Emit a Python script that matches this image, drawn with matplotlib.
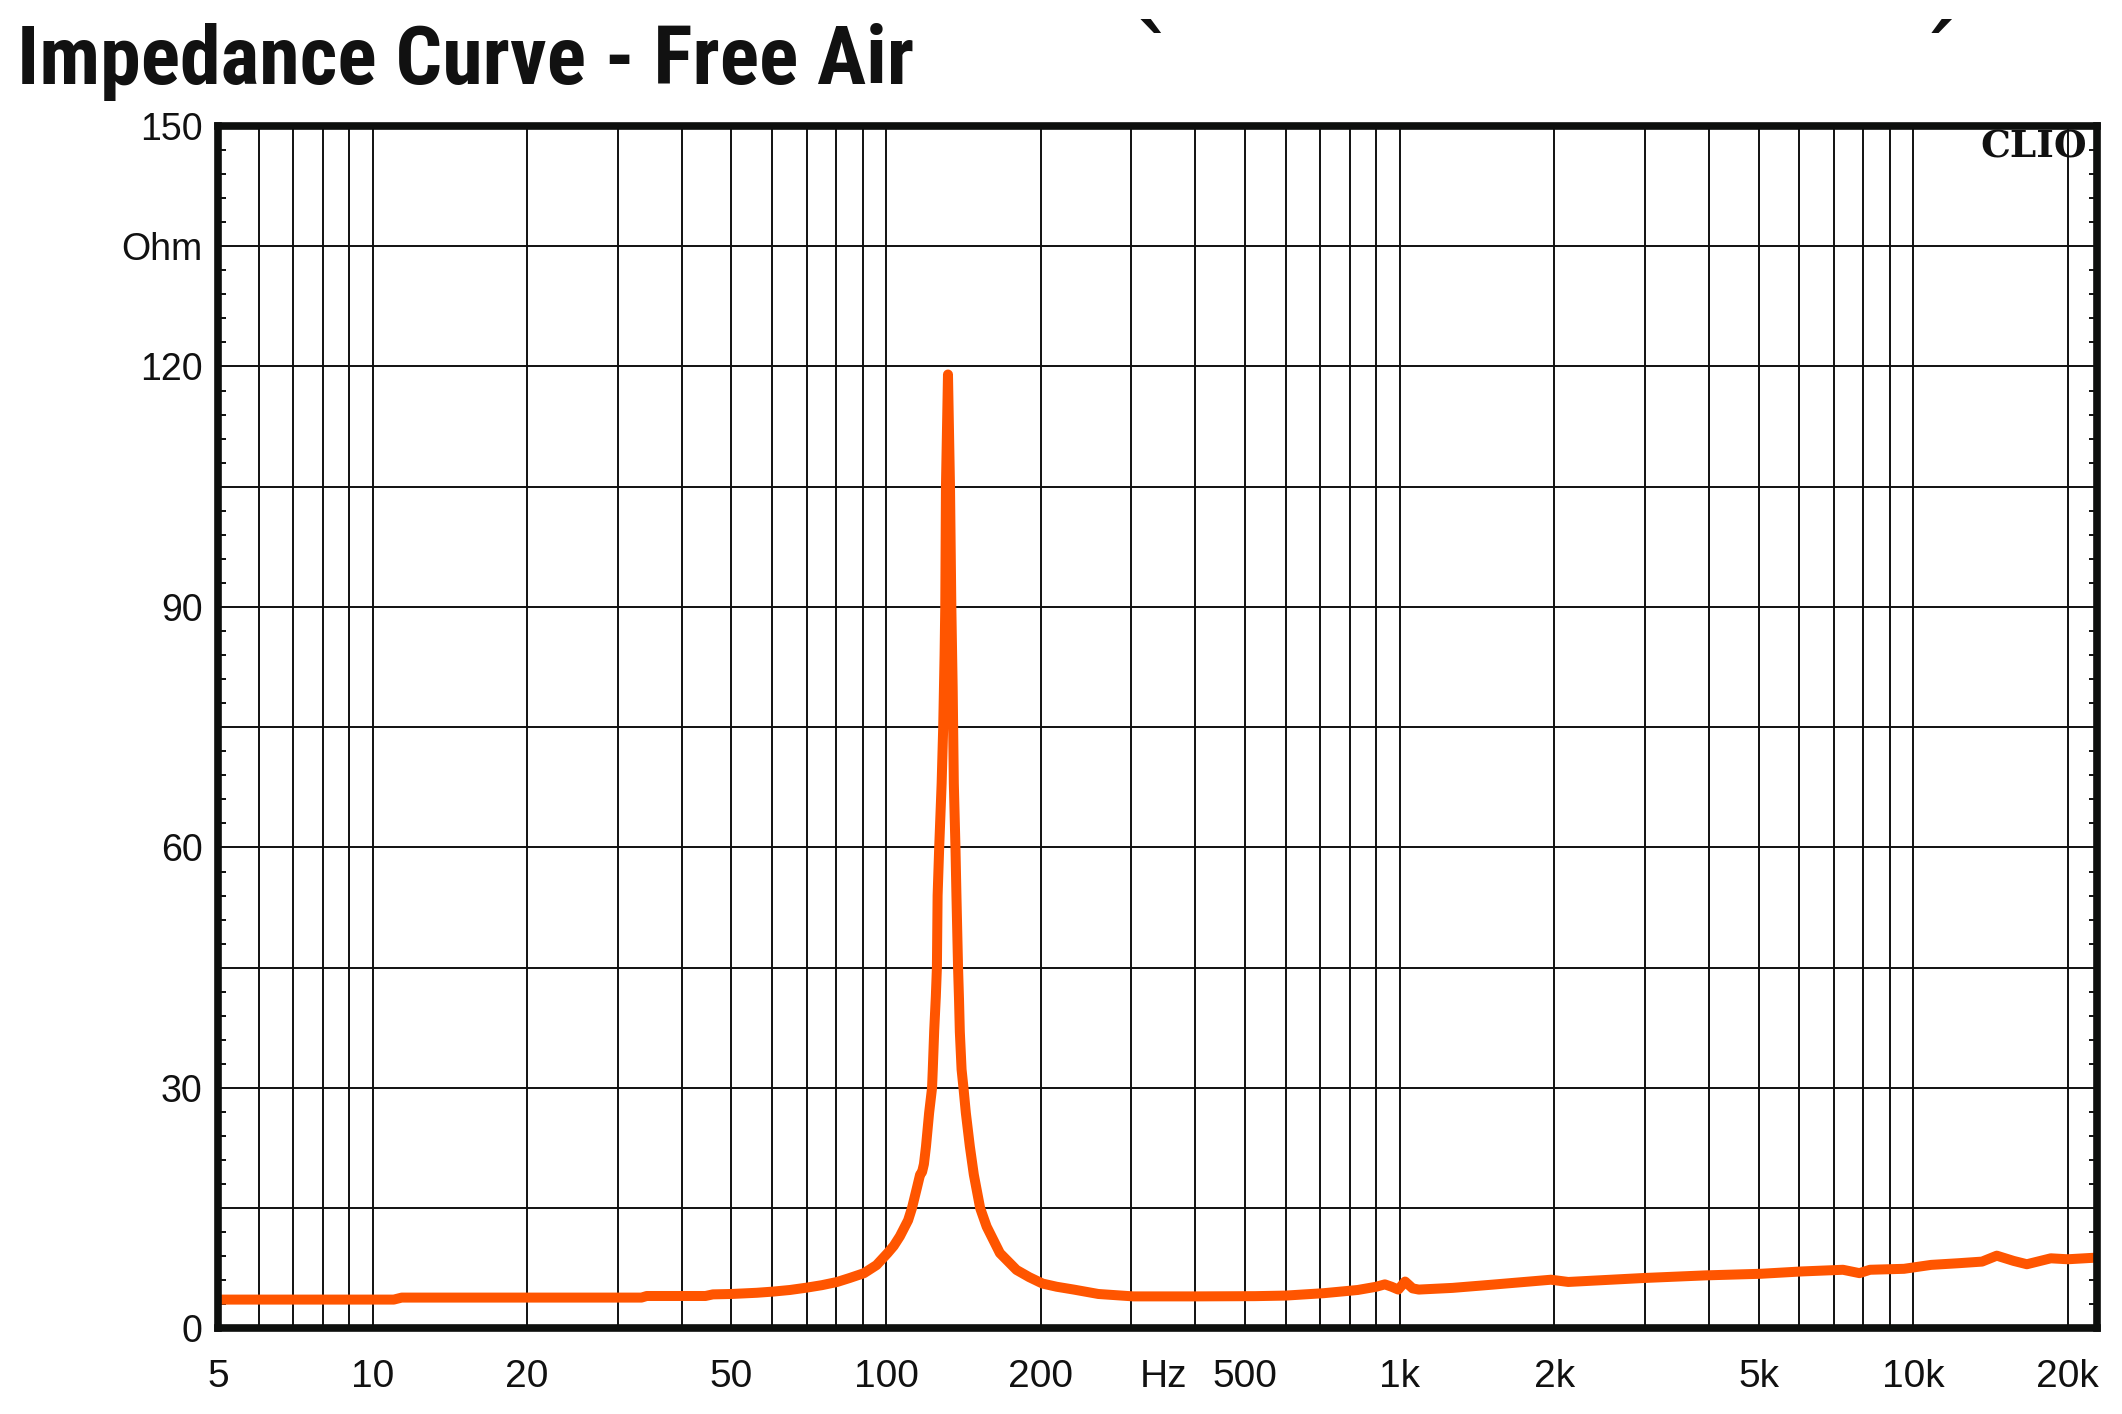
import matplotlib
matplotlib.use("Agg")
import matplotlib.pyplot as plt
from matplotlib import font_manager as fm
from matplotlib import transforms as mtransforms
from matplotlib.ticker import FixedLocator, NullFormatter

# ---------------- data ----------------
freq_hz = [5, 11.0, 11.4, 33.4, 34.2, 44.5, 46, 50, 56, 60.3, 65, 70.2, 75, 80.3, 85, 90.6,
           95.8, 100.7, 103.5, 106.4, 110.4, 112.3, 114.8, 116.5, 117.5, 118.5, 119.6, 121.3,
           122.9, 123.3, 124.1, 125.0, 125.6, 126.0, 126.9, 128.3, 129.2, 130.0, 130.4, 130.8,
           132.0, 133.2, 134.0, 134.8, 135.5, 136.5, 137.1, 138.1, 138.7, 139.2, 140.3, 141.5,
           143.0, 145.6, 148.2, 152.5, 157.0, 166.6, 179.5, 190, 201.7, 215, 232, 259, 303,
           330, 400, 523, 600, 712, 829, 900, 936, 965, 994, 1025, 1060, 1090, 1268, 1520,
           1972, 2130, 2980, 3940, 5050, 6060, 7300, 7860, 8240, 9600, 10840, 12270, 13620,
           14550, 15680, 16650, 18540, 20000, 22800]
impedance_ohm = [3.6, 3.6, 3.85, 3.85, 4.05, 4.05, 4.25, 4.3, 4.45, 4.6, 4.8, 5.1, 5.4, 5.8, 6.3,
                 6.9, 7.9, 9.4, 10.3, 11.5, 13.5, 15.0, 17.5, 19.2, 19.5, 20.5, 22.7, 26.9,
                 30.0, 32.3, 37.2, 41.4, 45.0, 54.0, 60.0, 68.0, 75.0, 84.0, 90.0, 105.0,
                 119.0, 105.0, 90.0, 80.0, 68.0, 60.0, 54.0, 45.0, 41.0, 37.0, 32.3, 30.0,
                 26.9, 22.7, 19.2, 15.0, 12.7, 9.4, 7.3, 6.4, 5.6, 5.2, 4.85, 4.3, 4.0,
                 4.0, 4.0, 4.03, 4.1, 4.4, 4.8, 5.2, 5.5, 5.2, 4.85, 5.85, 5.0, 4.85, 5.06, 5.47,
                 6.08, 5.8, 6.29, 6.62, 6.82, 7.11, 7.32, 6.9, 7.32, 7.44, 7.93, 8.14, 8.34,
                 9.08, 8.43, 8.01, 8.75, 8.63, 8.84]

x_tick_values = [5, 10, 20, 50, 100, 200, 500, 1000, 2000, 5000, 10000, 20000]
x_tick_labels = ["5", "10", "20", "50", "100", "200", "500", "1k", "2k", "5k", "10k", "20k"]
x_grid_minor = [6, 7, 8, 9, 30, 40, 60, 70, 80, 90, 300, 400, 600, 700, 800, 900,
                3000, 4000, 6000, 7000, 8000, 9000]
y_tick_values = [0, 15, 30, 45, 60, 75, 90, 105, 120, 135, 150]
y_tick_labels = ["0", "", "30", "", "60", "", "90", "", "120", "Ohm", "150"]

title_text = "Impedance Curve - Free Air"
brand_text = "CLIO"
unit_x_text = "Hz"


def has_font(name):
    try:
        fm.findfont(fm.FontProperties(family=name), fallback_to_default=False)
        return True
    except Exception:
        return False


title_font = "Liberation Sans"
for cand in ["Roboto Condensed", "Liberation Sans Narrow", "Open Sans Condensed"]:
    if has_font(cand):
        title_font = cand
        break
title_size = 59 if title_font != "Liberation Sans" else 50

label_font = ["Liberation Sans", "DejaVu Sans"]

line_color = "#FF5500"

fig = plt.figure(figsize=(21.22, 14.14), dpi=100)
fig.patch.set_facecolor("white")
ax = fig.add_axes([0.1027, 0.0605, 0.9882 - 0.1027, 0.9109 - 0.0605])

ax.plot(freq_hz, impedance_ohm, color=line_color, lw=7.2,
        solid_capstyle="round", solid_joinstyle="round", zorder=3)

ax.set_xscale("log")
ax.set_xlim(5, 22800)
ax.set_ylim(0, 150)

ax.xaxis.set_major_locator(FixedLocator(x_tick_values))
ax.set_xticklabels(x_tick_labels)
ax.xaxis.set_minor_locator(FixedLocator(x_grid_minor))
ax.xaxis.set_minor_formatter(NullFormatter())

ax.yaxis.set_major_locator(FixedLocator(y_tick_values))
ax.set_yticklabels(y_tick_labels)
ax.yaxis.set_minor_locator(FixedLocator(list(range(0, 151, 3))))

ax.grid(True, which="both", axis="x", color="#111111", lw=1.4, zorder=1)
ax.grid(True, which="major", axis="y", color="#111111", lw=1.4, zorder=1)

ax.tick_params(axis="x", which="both", length=0, pad=22)
ax.tick_params(axis="y", which="major", length=0, pad=11)
ax.tick_params(axis="y", which="minor", direction="in", length=6, width=1.4,
               left=True, right=True, color="#111111")

for lab in ax.get_xticklabels():
    lab.set_family(label_font)
    lab.set_fontsize(28)
    lab.set_color("#111111")
for lab in ax.get_yticklabels():
    lab.set_family(label_font)
    lab.set_fontsize(27)
    lab.set_color("#111111")

for sp in ax.spines.values():
    sp.set_linewidth(5.5)
    sp.set_color("#0d0f0d")
    sp.set_zorder(4)

# "Hz" unit label on the frequency axis row
hz_trans = mtransforms.offset_copy(ax.get_xaxis_transform(), fig=fig, x=0, y=-22, units="points")
ax.text(347, 0, unit_x_text, transform=hz_trans, ha="center", va="top",
        fontsize=28, family=label_font, color="#111111")

# Title
fig.text(0.008, 0.9406, title_text, ha="left", va="baseline",
         fontsize=title_size, fontweight="bold", family=[title_font, "DejaVu Sans"],
         color="#111111")

# Brand mark
fig.text(0.9835, 0.8957, brand_text, ha="right", va="center", fontsize=27,
         fontweight="bold", family=["DejaVu Serif"], color="#111111", zorder=5)

# Cropped remnants at top
fig.text(0.5445, 0.944, "`", ha="center", va="baseline", fontsize=54, fontweight="bold",
         family=["DejaVu Sans"], color="#111111")
fig.text(0.9125, 0.944, "\u00b4", ha="center", va="baseline", fontsize=54, fontweight="bold",
         family=["DejaVu Sans"], color="#111111")

fig.savefig("out.png", dpi=100, facecolor="white")
